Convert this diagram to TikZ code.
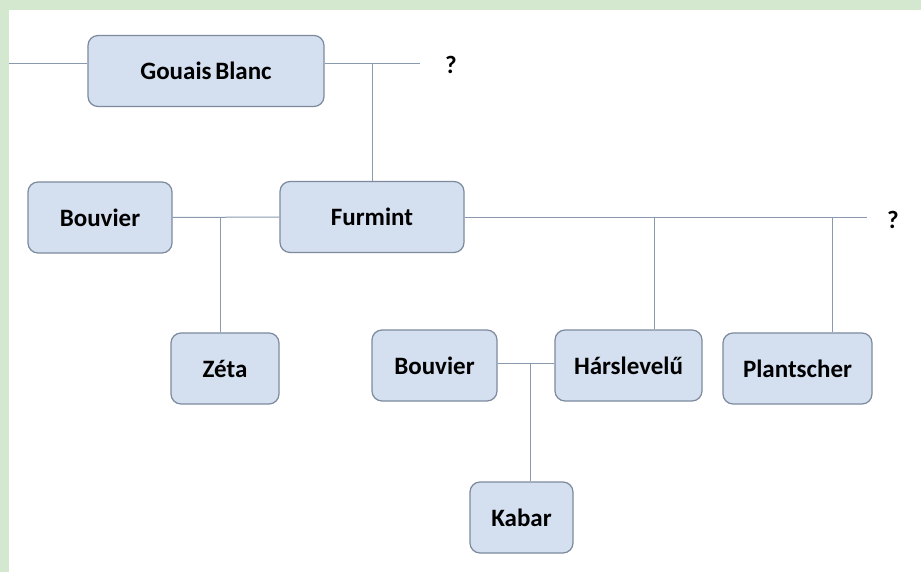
\documentclass[tikz,border=0pt]{standalone}
\usepackage{fontspec}
\setmainfont{Carlito}
\usetikzlibrary{positioning,calc}
\definecolor{grapefill}{HTML}{D4DFEF}
\definecolor{grapeedge}{HTML}{7D8A9E}
\definecolor{grapeline}{HTML}{8A9AAE}
\definecolor{framegreen}{HTML}{D3E8CE}

\begin{document}
\begin{tikzpicture}[
  x=0.5pt,y=-0.5pt,
  vine/.style={rectangle,rounded corners=5pt,draw=grapeedge,line width=0.6pt,
               fill=grapefill,font=\fontsize{12.5}{14}\selectfont\bfseries,
               minimum height=35.5pt,inner sep=0pt},
  link/.style={draw=grapeline,line width=0.5pt},
  mark q/.style={font=\fontsize{12.5}{14}\selectfont\bfseries}
]
\useasboundingbox (0,0) rectangle (921,572);
\fill[white] (0,0) rectangle (921,572);
% frame strips
\fill[framegreen] (0,0) rectangle (921,10);
\fill[framegreen] (0,0) rectangle (9,572);

% Row 1
\node[vine,minimum width=118pt] (gb) at (206,71) {Gouais\hspace{-1pt} Blanc};
\coordinate (l0) at (9,64);
\coordinate (l1) at (420,64);
\node[mark q] (q1) at (451,65) {?};

% Row 2
\node[vine,minimum width=72pt] (bv1) at (100,217.5) {Bouvier};
\node[vine,minimum width=92pt] (fu)  at (372,217)   {Furmint};
\coordinate (r1) at (867,218);
\node[mark q] (q2) at (893,220) {?};

% Row 3
\node[vine,minimum width=54pt]   (ze)  at (225,368.5) {Zéta};
\node[vine,minimum width=62.5pt] (bv2) at (434.5,365.5) {Bouvier};
\node[vine,minimum width=73.5pt] (ha)  at (628.5,365.5) {Hárslevelű};
\node[vine,minimum width=74.5pt] (pl)  at (797.5,368.5) {Plantscher};

% Row 4
\node[vine,minimum width=51.5pt] (ka) at (521.5,517.5) {Kabar};

% Connectors
\draw[link] (l0) -- (l0 -| gb.west);
\draw[link] (gb.east |- l1) -- (l1);
\draw[link] (372,64) -- (fu.north);

\draw[link] (bv1.east) -- (fu.west);
\draw[link] (220,218) -- (ze.north -| 220,0);

\draw[link] (fu.east |- r1) -- (r1);
\draw[link] (654,218) -- (ha.north -| 654,0);
\draw[link] (832,218) -- (pl.north -| 832,0);

\draw[link] (bv2.east |- 0,363) -- (ha.west |- 0,363);
\draw[link] (530,363) -- (ka.north -| 530,0);

\end{tikzpicture}
\end{document}
